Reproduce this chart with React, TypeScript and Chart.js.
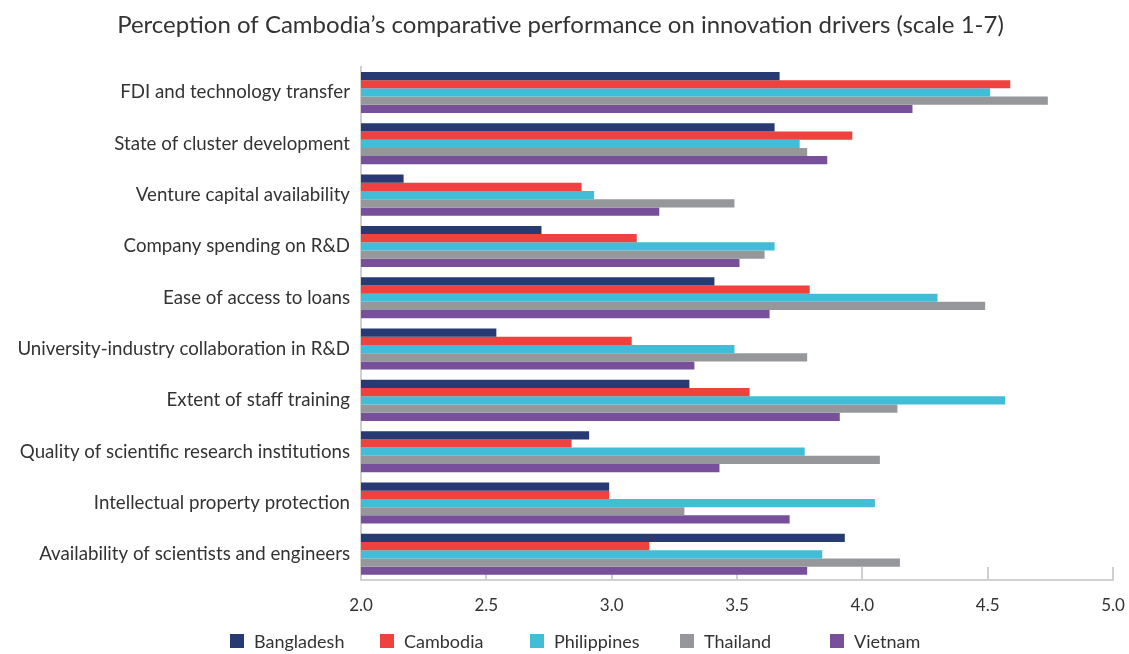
import React, { useEffect, useRef } from "react";
import { Chart, registerables } from "chart.js";

Chart.register(...registerables);

const categories = [
  "FDI and technology transfer",
  "State of cluster development",
  "Venture capital availability",
  "Company spending on R&D",
  "Ease of access to loans",
  "University-industry collaboration in R&D",
  "Extent of staff training",
  "Quality of scientific research institutions",
  "Intellectual property protection",
  "Availability of scientists and engineers",
];

const bangladesh = [3.67, 3.65, 2.17, 2.72, 3.41, 2.54, 3.31, 2.91, 2.99, 3.93];
const cambodia = [4.59, 3.96, 2.88, 3.1, 3.79, 3.08, 3.55, 2.84, 2.99, 3.15];
const philippines = [4.51, 3.75, 2.93, 3.65, 4.3, 3.49, 4.57, 3.77, 4.05, 3.84];
const thailand = [4.74, 3.78, 3.49, 3.61, 4.49, 3.78, 4.14, 4.07, 3.29, 4.15];
const vietnam = [4.2, 3.86, 3.19, 3.51, 3.63, 3.33, 3.91, 3.43, 3.71, 3.78];

const seriesNames = ["Bangladesh", "Cambodia", "Philippines", "Thailand", "Vietnam"];
const seriesColors = ["#283A73", "#EF413D", "#41BDD8", "#96979B", "#774F9B"];

const titleText = "Perception of Cambodia\u2019s comparative performance on innovation drivers (scale 1-7)";
const FONT = "Lato, 'Open Sans', sans-serif";

const innerTicks = {
  id: "innerTicks",
  beforeDatasetsDraw(chart: any) {
    const { ctx, chartArea, scales } = chart;
    const x = scales.x;
    ctx.save();
    ctx.strokeStyle = "#d0d0d0";
    ctx.lineWidth = 2;
    x.ticks.forEach((t: any) => {
      const px = Math.round(x.getPixelForValue(t.value));
      ctx.beginPath();
      ctx.moveTo(px, chartArea.bottom - 13);
      ctx.lineTo(px, chartArea.bottom);
      ctx.stroke();
    });
    ctx.restore();
  },
};

const bottomLegend = {
  id: "bottomLegend",
  afterDraw(chart: any) {
    const { ctx, width } = chart;
    const box = 14;
    const gap = 10;
    const step = 150;
    ctx.save();
    ctx.font = `18px ${FONT}`;
    ctx.textBaseline = "middle";
    const datasets = chart.data.datasets;
    const x0 = width / 2 - 335;
    const y = 641;
    datasets.forEach((d: any, i: number) => {
      const x = Math.round(x0 + i * step);
      ctx.fillStyle = d.backgroundColor;
      ctx.fillRect(x, y - box / 2, box, box);
      ctx.fillStyle = "#333";
      ctx.fillText(d.label, x + box + gap, y + 1);
    });
    ctx.restore();
  },
};

export default function App() {
  const ref = useRef<HTMLCanvasElement>(null);
  useEffect(() => {
    document.body.style.margin = "0";
    const values = [bangladesh, cambodia, philippines, thailand, vietnam];
    const chart = new Chart(ref.current!, {
      type: "bar",
      data: {
        labels: categories,
        datasets: seriesNames.map((n, i) => ({
          label: n,
          data: values[i],
          backgroundColor: seriesColors[i],
          borderWidth: 0,
          categoryPercentage: 0.8,
          barPercentage: 1.0,
        })),
      },
      plugins: [innerTicks, bottomLegend],
      options: {
        indexAxis: "y",
        animation: false,
        responsive: false,
        layout: { padding: { left: 8, right: 16, top: 0, bottom: 34 } },
        plugins: {
          title: {
            display: true,
            text: titleText,
            color: "#333",
            font: { family: FONT, size: 24, weight: "normal" },
            padding: { top: 11, bottom: 27 },
          },
          legend: { display: false },
          tooltip: { enabled: false },
        },
        scales: {
          x: {
            min: 2,
            max: 5,
            ticks: {
              stepSize: 0.5,
              color: "#333",
              font: { family: FONT, size: 17 },
              padding: 15,
              callback: (v: any) => Number(v).toFixed(1),
            },
            grid: { display: false, drawTicks: false },
            border: { display: true, color: "#d0d0d0", width: 2 },
            afterFit: (s: any) => {
              s.height = 40;
              s.paddingLeft = 0;
              s.paddingRight = 0;
            },
          },
          y: {
            ticks: {
              color: "#333",
              font: { family: FONT, size: 18.7 },
              padding: 11,
            },
            grid: { display: false, drawTicks: false },
            border: { display: true, color: "#d0d0d0", width: 2 },
            afterFit: (s: any) => {
              s.width = 353;
            },
          },
        },
      },
    });
    return () => chart.destroy();
  }, []);
  return (
    <div style={{ width: 1129, height: 654 }}>
      <canvas ref={ref} width={1129} height={654} />
    </div>
  );
}
